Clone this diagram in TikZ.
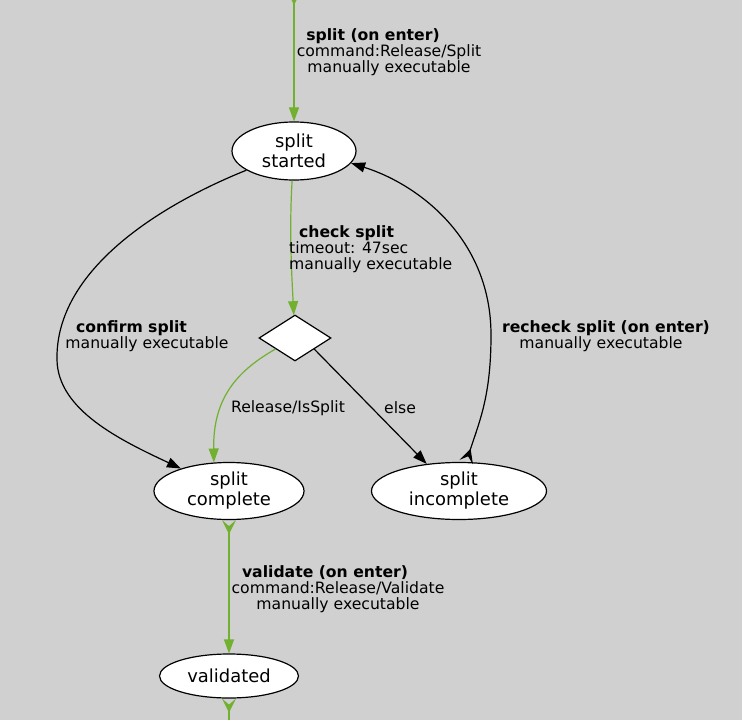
\documentclass[tikz,border=0pt]{standalone}
\usepackage{fontspec}
\setmainfont{DejaVu Sans}
\usetikzlibrary{shapes.geometric,arrows.meta}
\definecolor{bg}{RGB}{208,208,208}
\definecolor{grn}{RGB}{114,176,48}
\newcommand\stfont{\fontsize{18}{20}\selectfont}
\newcommand\lbfont{\fontsize{15.7}{15.8}\selectfont}
\tikzset{
  state/.style={ellipse, draw=black, fill=white, line width=1.2bp, inner sep=0pt, font=\stfont, align=center},
  choice/.style={diamond, draw=black, fill=white, line width=1.2bp, inner sep=0pt, minimum width=72bp, minimum height=46bp},
  edge/.style={line width=1.2bp, draw=black, arrows={-Triangle[length=14bp,width=10bp]}},
  gedge/.style={edge, draw=grn, color=grn},
  entertail/.style={arrows={Stealth[length=14bp,width=14bp,inset=6bp,reversed]-Triangle[length=14bp,width=10bp]}},
  lbl/.style={font=\lbfont, inner sep=0pt, align=center, text=black}
}
\begin{document}
\begin{tikzpicture}[x=1bp,y=-1bp]
\fill[bg] (0,0) rectangle (742,720);
\useasboundingbox (0,0) rectangle (742,720);

\node[state, minimum width=124bp, minimum height=58bp] (ss) at (294,151) {split\\started};
\node[choice] (d) at (295,338) {};
\node[state, minimum width=150bp, minimum height=57bp] (sc) at (229,491) {split\\complete};
\node[state, minimum width=175bp, minimum height=57bp] (si) at (459,491) {split\\incomplete};
\node[state, minimum width=139bp, minimum height=44bp] (v) at (229,676) {validated};

\coordinate (topc) at (294,-9);
\coordinate (botc) at (229,740);
\coordinate (cl) at (57,360);
\coordinate (cr) at (491,335);

% incoming split (on enter)
\draw[gedge, entertail] (topc) -- (ss);
\node[lbl] (l1) at (389,52) {\textbf{split (on enter)}\hspace*{32bp}\\command:Release/Split\\manually executable};

% check split
\draw[gedge] (ss) .. controls (289,230) and (292,280) .. (d);
\node[lbl, align=left, anchor=west] (l2) at (289,249) {\hspace*{10bp}\textbf{check split}\\timeout: 47sec\\manually executable};

% confirm split
\draw[edge] (ss) .. controls (160,205) and (55,270) .. (cl) .. controls (58,410) and (120,440) .. (sc);
\node[lbl] (l3) at (147,336) {\textbf{confirm split}\hspace*{31bp}\\manually executable};

% Release/IsSplit
\draw[gedge] (d) .. controls (235,372) and (213,400) .. (sc.118);
\node[lbl] (l4) at (288,408) {Release/IsSplit};

% else
\draw[edge] (d.-30) -- (si.140);
\node[lbl] (l5) at (400,408) {else};

% recheck split
\draw[edge, entertail] (si.76) .. controls (480,420) and (491,395) .. (cr) .. controls (491,240) and (420,185) .. (ss.-12);
\node[lbl] (l6) at (606,336) {\textbf{recheck split (on enter)}\\manually executable\hspace*{10bp}};

% validate
\draw[gedge, entertail] (sc) -- (v);
\node[lbl] (l7) at (338,589) {\textbf{validate (on enter)}\hspace*{26bp}\\command:Release/Validate\\manually executable};

% outgoing
\draw[gedge, entertail] (v) -- (botc);
\end{tikzpicture}
\end{document}
